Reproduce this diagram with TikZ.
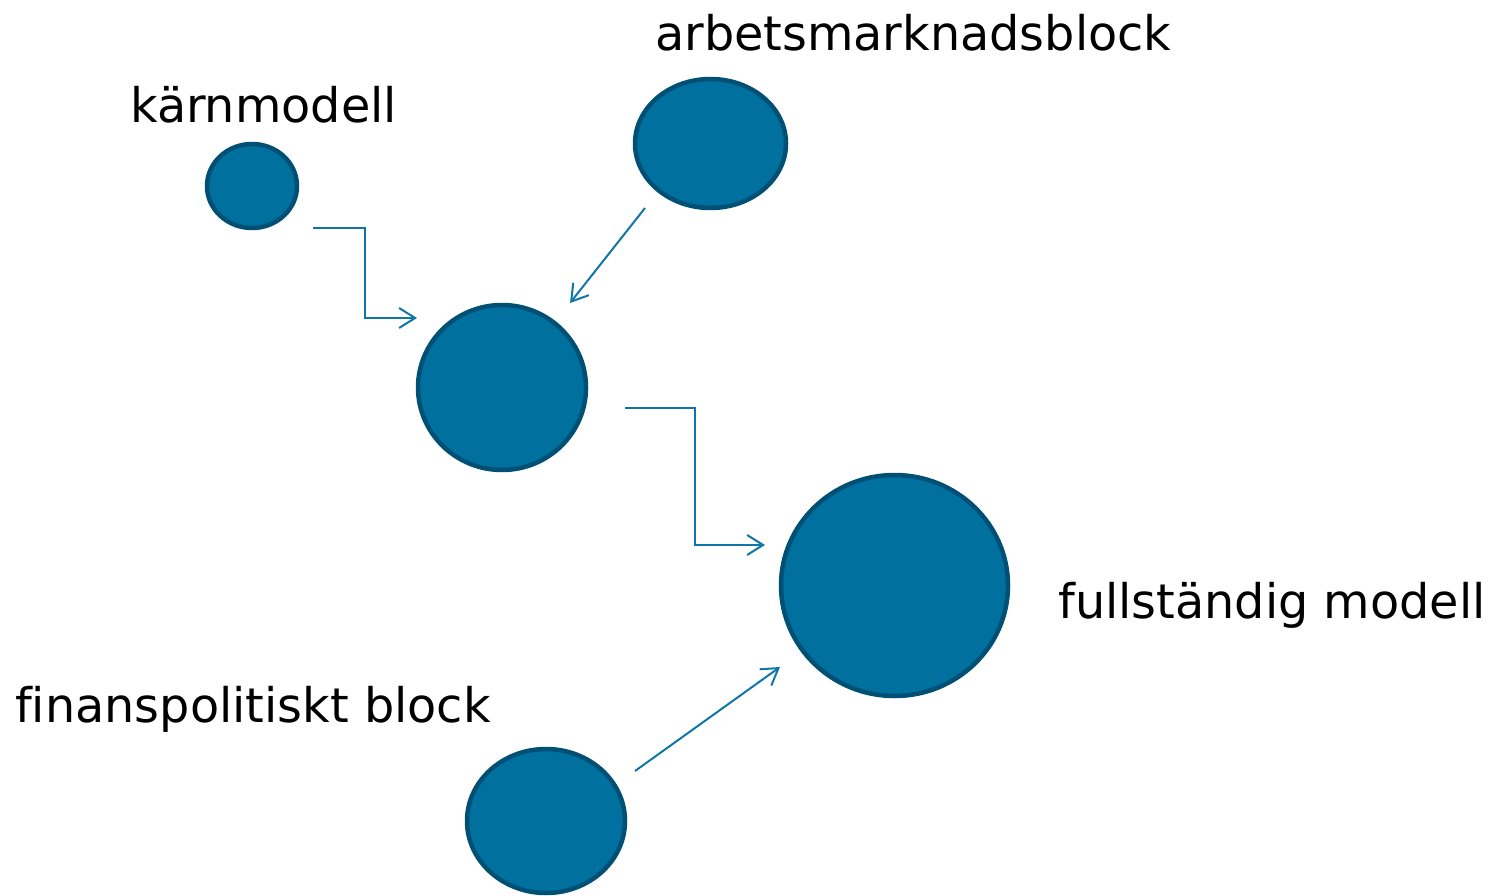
\documentclass[tikz,border=0pt]{standalone}
\usepackage{fontspec}
\setmainfont{DejaVu Sans}[Ligatures={NoCommon}]
\usetikzlibrary{arrows.meta,shapes.geometric}
\definecolor{blobfill}{RGB}{0,112,158}
\definecolor{blobedge}{RGB}{0,80,118}
\definecolor{arrowcol}{RGB}{16,118,168}
\tikzset{
  blob/.style={ellipse,draw=blobedge,fill=blobfill,line width=4.5pt,inner sep=0pt},
  lbl/.style={anchor=base west,inner sep=0pt,font=\fontsize{47.7}{56}\selectfont},
  conn/.style={draw=arrowcol,line width=2pt,-{Straight Barb[length=16pt,width=20pt,line width=2pt]}}
}
\begin{document}
\begin{tikzpicture}[x=1pt,y=-1pt]
\useasboundingbox (0,0) rectangle (1490,896);
% circles
\node[blob,minimum width=90pt,minimum height=84pt] (karn) at (252,186) {};
\node[blob,minimum width=151pt,minimum height=129pt] (arb) at (710.5,143.5) {};
\node[blob,minimum width=168pt,minimum height=165pt] (mid) at (502,387.5) {};
\node[blob,minimum width=227pt,minimum height=221pt] (full) at (894.5,585.5) {};
\node[blob,minimum width=158pt,minimum height=144pt] (fin) at (546,821) {};
% labels
\node[lbl] (tkarn) at (130,123) {kärnmodell};
\node[lbl] (tarb) at (655,51) {arbetsmarknadsblock};
\node[lbl] (tfull) at (1058,618) {fullständig modell};
\node[lbl] (tfin) at (15,722) {finanspolitiskt block};
% connector ends
\coordinate (k0) at (313,228);
\coordinate (k1) at (417,318);
\coordinate (a0) at (645,208);
\coordinate (a1) at (570,303);
\coordinate (m0) at (625,408);
\coordinate (m1) at (765,545);
\coordinate (f0) at (635,771);
\coordinate (f1) at (780,667);
% connectors
\draw[conn] (k0) -- (365,228) -- (365,318) -- (k1);
\draw[conn] (a0) -- (a1);
\draw[conn] (m0) -- (695,408) -- (695,545) -- (m1);
\draw[conn] (f0) -- (f1);
\end{tikzpicture}
\end{document}
